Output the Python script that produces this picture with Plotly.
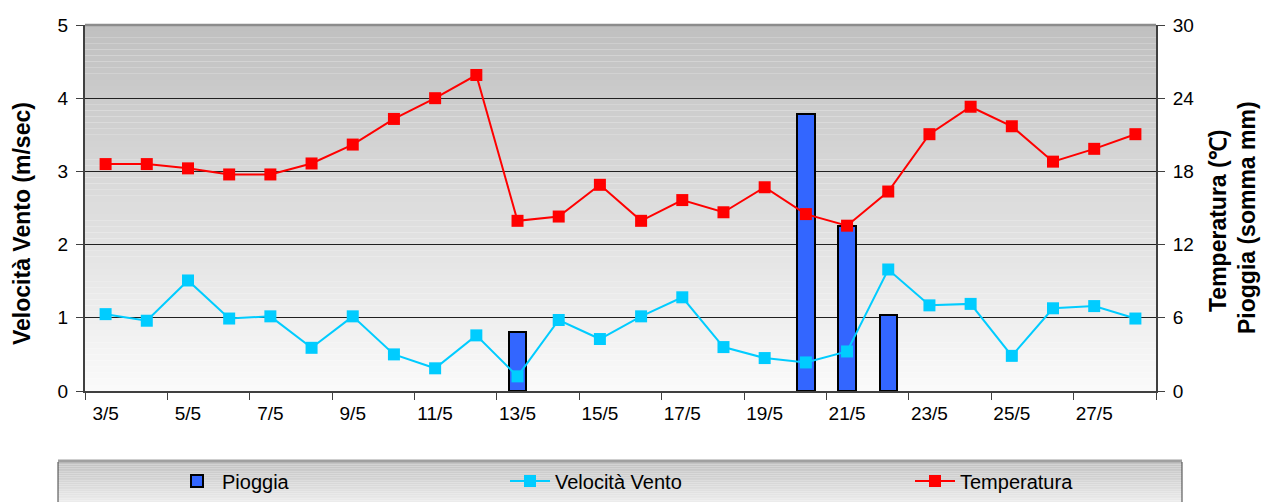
import plotly.graph_objects as go

# ---------------- data ----------------
days = ["3/5", "4/5", "5/5", "6/5", "7/5", "8/5", "9/5", "10/5", "11/5", "12/5",
        "13/5", "14/5", "15/5", "16/5", "17/5", "18/5", "19/5", "20/5", "21/5",
        "22/5", "23/5", "24/5", "25/5", "26/5", "27/5", "28/5"]
pioggia = [0, 0, 0, 0, 0, 0, 0, 0, 0, 0,
           4.8, 0, 0, 0, 0, 0, 0, 22.7, 13.5,
           6.2, 0, 0, 0, 0, 0, 0]
vento = [1.05, 0.96, 1.51, 0.99, 1.02, 0.59, 1.02, 0.50, 0.31, 0.76,
         0.20, 0.97, 0.71, 1.02, 1.28, 0.60, 0.45, 0.39, 0.54,
         1.66, 1.17, 1.19, 0.48, 1.13, 1.16, 0.99]
temperatura = [18.6, 18.6, 18.25, 17.75, 17.75, 18.65, 20.2, 22.3, 24.0, 25.9,
               13.95, 14.3, 16.9, 13.95, 15.65, 14.65, 16.7, 14.5, 13.55,
               16.35, 21.05, 23.3, 21.7, 18.8, 19.85, 21.05]
left_ticks = [0, 1, 2, 3, 4, 5]
right_ticks = [0, 6, 12, 18, 24, 30]

x_idx = list(range(len(days)))
label_idx = x_idx[::2]
label_txt = days[::2]
# days with rain only (zero-rain days draw no bar, as in the original)
rain_x = [i for i, v in zip(x_idx, pioggia) if v > 0]
rain_y = [v for v in pioggia if v > 0]

FONT = "Liberation Sans, Arial, sans-serif"

fig = go.Figure()

fig.add_trace(go.Bar(
    x=rain_x, y=rain_y, name="Pioggia", yaxis="y", width=0.42,
    marker=dict(color="#3366FF", line=dict(color="#000000", width=2)),
    legend="legend", hoverinfo="x+y"))
fig.add_trace(go.Scatter(
    x=x_idx, y=temperatura, name="Temperatura", yaxis="y", mode="lines+markers",
    line=dict(color="#FF0000", width=2),
    marker=dict(symbol="square", size=12, color="#FF0000"),
    legend="legend3"))
fig.add_trace(go.Scatter(
    x=x_idx, y=vento, name="Velocità Vento", yaxis="y2", mode="lines+markers",
    line=dict(color="#00CCFF", width=2),
    marker=dict(symbol="square", size=12, color="#00CCFF"),
    legend="legend2"))

# ------------- background gradients (styling) -------------
shapes = []
n = 60
for i in range(n):
    f = i / n
    c = round(250 - (250 - 192) * (f + 0.5 / n))
    shapes.append(dict(type="rect", xref="paper", yref="paper",
                       x0=0, x1=1, y0=f, y1=(i + 1) / n,
                       fillcolor=f"rgb({c},{c},{c})", line=dict(width=0),
                       layer="below"))
# top border of plot area
shapes.append(dict(type="line", xref="paper", yref="paper", x0=0, x1=1, y0=1, y1=1,
                   line=dict(color="#8c8c8c", width=2.5), layer="above"))

# legend box
def px_x(p):
    return (p - 85) / 1071.0

def px_y(p):
    return (391 - p) / 366.0

lt, lb = 461, 515
m = 30
for i in range(m):
    y0p = lt + (lb - lt) * i / m
    y1p = lt + (lb - lt) * (i + 1) / m
    c = round(192 + (250 - 192) * (i + 0.5) / m)
    shapes.append(dict(type="rect", xref="paper", yref="paper",
                       x0=px_x(58), x1=px_x(1182), y0=px_y(y1p), y1=px_y(y0p),
                       fillcolor=f"rgb({c},{c},{c})", line=dict(width=0),
                       layer="below"))
shapes.append(dict(type="line", xref="paper", yref="paper",
                   x0=px_x(58), x1=px_x(1182), y0=px_y(461), y1=px_y(461),
                   line=dict(color="#a0a0a0", width=3)))
shapes.append(dict(type="line", xref="paper", yref="paper",
                   x0=px_x(58), x1=px_x(58), y0=px_y(462), y1=px_y(520),
                   line=dict(color="#404040", width=1)))
shapes.append(dict(type="line", xref="paper", yref="paper",
                   x0=px_x(1182), x1=px_x(1182), y0=px_y(462), y1=px_y(520),
                   line=dict(color="#404040", width=1)))

leg_common = dict(orientation="h", bgcolor="rgba(0,0,0,0)", borderwidth=0,
                  font=dict(family=FONT, size=20, color="#000000"),
                  xanchor="left", yanchor="middle", y=px_y(481), itemwidth=40)

fig.update_layout(
    width=1261, height=502,
    margin=dict(l=85, r=105, t=25, b=111, autoexpand=False),
    paper_bgcolor="#ffffff", plot_bgcolor="rgba(0,0,0,0)",
    font=dict(family=FONT, size=18, color="#000000"),
    bargap=0,
    showlegend=True,
    legend=dict(leg_common, x=px_x(172)),
    legend2=dict(leg_common, x=px_x(505)),
    legend3=dict(leg_common, x=px_x(910)),
    xaxis=dict(
        range=[-0.5, len(days) - 0.5], tickmode="array",
        tickvals=label_idx, ticktext=label_txt,
        ticks="outside", ticklen=4, tickcolor="rgba(0,0,0,0)",
        showgrid=False, zeroline=False,
        showline=True, linecolor="#404040", linewidth=2,
        tickfont=dict(family=FONT, size=19, color="#000000"),
        minor=dict(tick0=-0.5, dtick=2, ticks="outside", ticklen=7,
                   tickcolor="#404040", tickwidth=1, showgrid=False),
        fixedrange=True),
    yaxis=dict(
        side="right", range=[0, 30], tickmode="array", tickvals=right_ticks,
        ticks="outside", ticklen=7, tickcolor="#404040",
        showgrid=True, gridcolor="#202020", gridwidth=1,
        zeroline=False, showline=True, linecolor="#404040", linewidth=2,
        tickfont=dict(family=FONT, size=19, color="#000000"),
        ticklabelstandoff=4),
    yaxis2=dict(
        side="left", overlaying="y", range=[0, 5], tickmode="array",
        tickvals=left_ticks, ticks="outside", ticklen=7, tickcolor="#404040",
        showgrid=False, zeroline=False, showline=True, linecolor="#404040",
        linewidth=2, tickfont=dict(family=FONT, size=19, color="#000000"),
        ticklabelstandoff=4),
    shapes=shapes,
    annotations=[
        dict(text="<b>Velocità Vento (m/sec)</b>", textangle=-90,
             xref="paper", yref="paper", x=px_x(22), y=px_y(224),
             xanchor="center", yanchor="middle", showarrow=False,
             font=dict(family=FONT, size=23, color="#000000")),
        dict(text="<b>Temperatura (℃)</b>", textangle=-90,
             xref="paper", yref="paper", x=px_x(1218), y=px_y(221),
             xanchor="center", yanchor="middle", showarrow=False,
             font=dict(family=FONT, size=23, color="#000000")),
        dict(text="<b>Pioggia (somma mm)</b>", textangle=-90,
             xref="paper", yref="paper", x=px_x(1247), y=px_y(218),
             xanchor="center", yanchor="middle", showarrow=False,
             font=dict(family=FONT, size=23, color="#000000")),
    ],
)

fig.write_html("out.html", config={"displayModeBar": False},
               post_script="document.body.style.margin='0px';")
